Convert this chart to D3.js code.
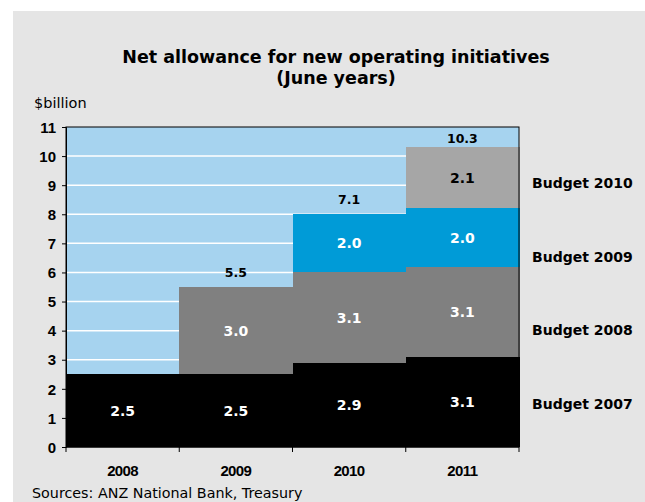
<!DOCTYPE html>
<html>
<head>
<meta charset="utf-8">
<title>Net allowance for new operating initiatives</title>
<style>
  body { margin: 0; background: #fff; }
  svg { display: block; }
  .ytick text { font-family: "Liberation Sans", Arial, sans-serif; font-weight: bold; font-size: 15px; fill: #000; }
  .xtick text { font-family: "Liberation Sans", Arial, sans-serif; font-weight: bold; font-size: 15px; fill: #000; letter-spacing: -0.6px; }
</style>
</head>
<body>
<svg id="chart" width="645" height="502"></svg>
<script src="https://cdn.jsdelivr.net/npm/d3@7"></script>
<script>
// values
const years = ["2008", "2009", "2010", "2011"];
const budget2007 = [2.5, 2.5, 2.9, 3.1];
const budget2008 = [0, 3.0, 3.1, 3.1];
const budget2009 = [0, 0, 2.0, 2.0];
const budget2010 = [0, 0, 0, 2.1];
const totalLabels = ["", "5.5", "7.1", "10.3"];
const seriesNames = ["Budget 2007", "Budget 2008", "Budget 2009", "Budget 2010"];
const yTicks = [0, 1, 2, 3, 4, 5, 6, 7, 8, 9, 10, 11];

const colors = ["#000000", "#808080", "#009bd7", "#a6a6a6"];
const labelColors = ["#fff", "#fff", "#fff", "#000"];

const svg = d3.select("#chart");
const W = 645, H = 502;
const plotLeft = 66, plotRight = 519, plotTop = 127, plotBottom = 447;

// grey panel
svg.append("rect").attr("x", 13).attr("y", 11).attr("width", W - 13).attr("height", H - 11)
  .attr("fill", "#e5e5e5");

const x = d3.scaleBand().domain(years).range([plotLeft, plotRight]).padding(0);
const y = d3.scaleLinear().domain([0, 11]).range([plotBottom, plotTop]);

// plot background
svg.append("rect").attr("x", plotLeft).attr("y", plotTop)
  .attr("width", plotRight - plotLeft).attr("height", plotBottom - plotTop)
  .attr("fill", "#a6d3ef");

// gridlines
svg.append("g").selectAll("line").data(yTicks.filter(d => d > 0 && d < 11)).join("line")
  .attr("x1", plotLeft).attr("x2", plotRight)
  .attr("y1", d => y(d)).attr("y2", d => y(d))
  .attr("stroke", "#fff").attr("stroke-width", 1.5);

// stacked bars
const rows = years.map((yr, i) => ({
  year: yr,
  "Budget 2007": budget2007[i],
  "Budget 2008": budget2008[i],
  "Budget 2009": budget2009[i],
  "Budget 2010": budget2010[i]
}));
const stacked = d3.stack().keys(seriesNames)(rows);

const layers = svg.append("g").selectAll("g").data(stacked).join("g")
  .attr("fill", (d, i) => colors[i])
  .attr("shape-rendering", "crispEdges");

layers.selectAll("rect").data(d => d.filter(p => p[1] > p[0])).join("rect")
  .attr("x", d => x(d.data.year))
  .attr("width", x.bandwidth() + 0.5)
  .attr("y", d => y(d[1]))
  .attr("height", d => y(d[0]) - y(d[1]));

// segment labels
stacked.forEach((layer, i) => {
  svg.append("g").selectAll("text").data(layer.filter(p => p[1] > p[0])).join("text")
    .attr("x", d => x(d.data.year) + x.bandwidth() / 2)
    .attr("y", d => y((d[0] + d[1]) / 2) + 5)
    .attr("text-anchor", "middle")
    .attr("font-family", "DejaVu Sans, Verdana, sans-serif")
    .attr("font-weight", "bold")
    .attr("font-size", 14)
    .attr("fill", labelColors[i])
    .text(d => (d[1] - d[0]).toFixed(1));
});

// totals above stacks
const topLayer = stacked[stacked.length - 1];
svg.append("g").selectAll("text").data(years).join("text")
  .attr("x", d => x(d) + x.bandwidth() / 2)
  .attr("y", (d, i) => Math.max(y(topLayer[i][1]) - 10, plotTop + 16))
  .attr("text-anchor", "middle")
  .attr("font-family", "DejaVu Sans, Verdana, sans-serif")
  .attr("font-weight", "bold")
  .attr("font-size", 12.5)
  .attr("fill", "#000")
  .text((d, i) => totalLabels[i]);

// frame
svg.append("rect").attr("x", plotLeft).attr("y", plotTop)
  .attr("width", plotRight - plotLeft).attr("height", plotBottom - plotTop)
  .attr("fill", "none").attr("stroke", "#000").attr("stroke-width", 1);

// axes
const yAxis = d3.axisLeft(y).tickValues(yTicks).tickSize(4).tickPadding(6).tickFormat(d3.format("d"));
svg.append("g").attr("class", "ytick").attr("transform", `translate(${plotLeft},0)`).call(yAxis)
  .call(g => g.select(".domain").attr("stroke", "#000"))
  .call(g => g.selectAll("text").attr("dy", "0.35em"));

const boundaries = years.map(d => x(d)).concat([plotRight]);
svg.append("g").selectAll("line").data(boundaries).join("line")
  .attr("x1", d => d).attr("x2", d => d)
  .attr("y1", plotBottom).attr("y2", plotBottom + 5)
  .attr("stroke", "#000");
svg.append("line").attr("x1", plotLeft).attr("x2", plotRight)
  .attr("y1", plotBottom).attr("y2", plotBottom).attr("stroke", "#000");

svg.append("g").attr("class", "xtick").selectAll("text").data(years).join("text")
  .attr("x", d => x(d) + x.bandwidth() / 2)
  .attr("y", 476)
  .attr("text-anchor", "middle")
  .text(d => d);

// legend labels on the right
svg.append("g").selectAll("text").data(seriesNames).join("text")
  .attr("x", 532)
  .attr("y", (d, i) => 409 - i * 73.6)
  .attr("font-family", "DejaVu Sans, Verdana, sans-serif")
  .attr("font-weight", "bold")
  .attr("font-size", 14)
  .attr("fill", "#000")
  .text(d => d);

// titles
const title = svg.append("text").attr("text-anchor", "middle")
  .attr("font-family", "DejaVu Sans, Verdana, sans-serif").attr("font-weight", "bold")
  .attr("font-size", 17.5).attr("fill", "#000");
title.append("tspan").attr("x", 336).attr("y", 63).text("Net allowance for new operating initiatives");
title.append("tspan").attr("x", 336).attr("y", 84).text("(June years)");

svg.append("text").attr("x", 34).attr("y", 108)
  .attr("font-family", "DejaVu Sans, Verdana, sans-serif").attr("font-size", 14.5)
  .attr("fill", "#000").text("$billion");

svg.append("text").attr("x", 32).attr("y", 498)
  .attr("font-family", "DejaVu Sans, Verdana, sans-serif").attr("font-size", 14.3)
  .attr("fill", "#000").text("Sources: ANZ National Bank, Treasury");
</script>
</body>
</html>
